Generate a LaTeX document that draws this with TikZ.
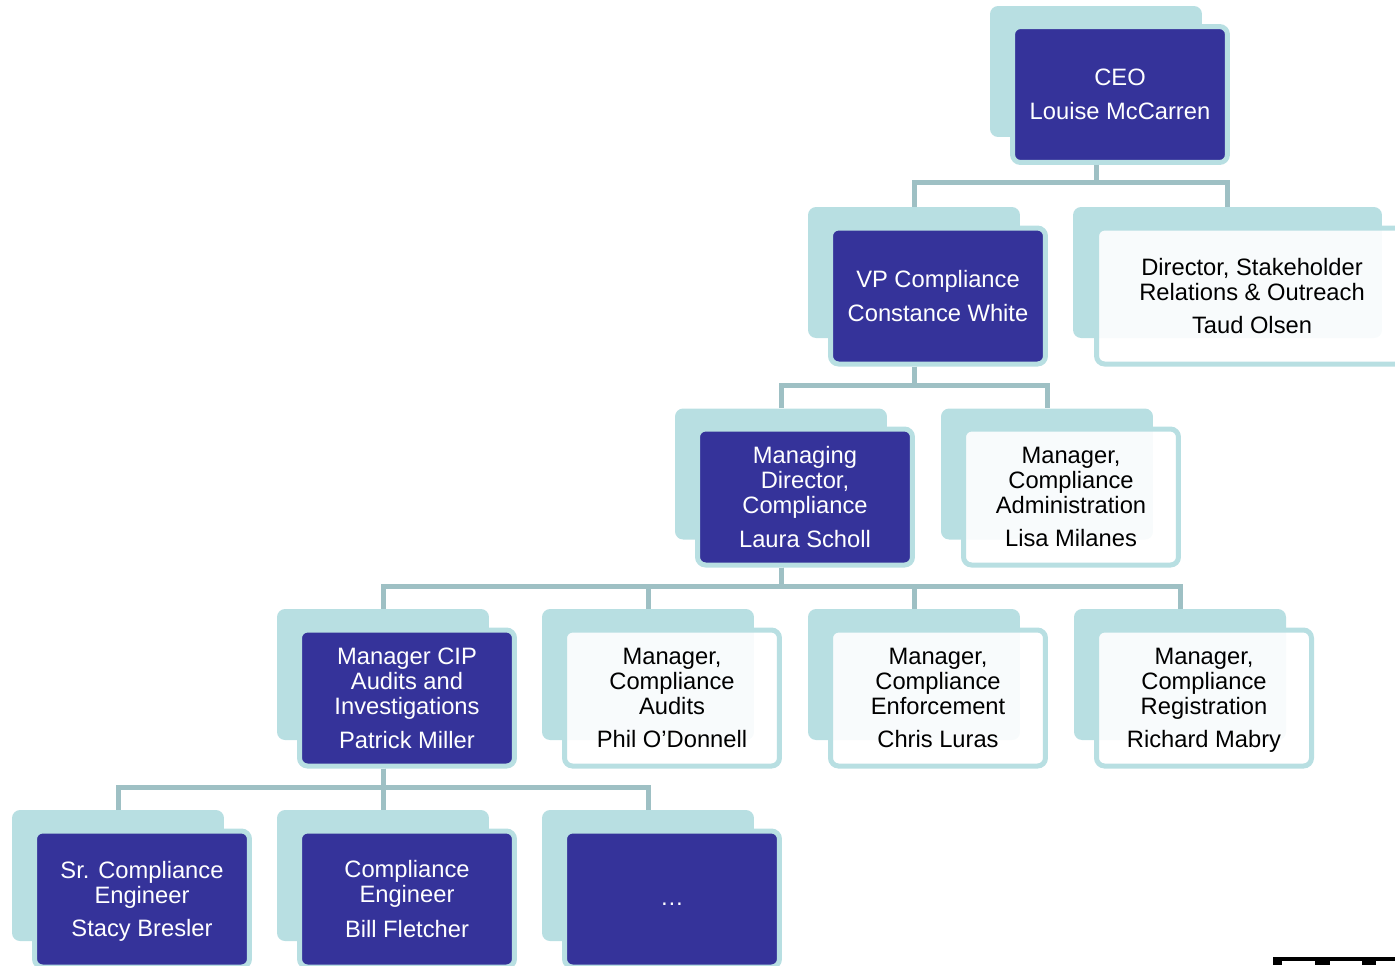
\documentclass[tikz,border=0pt]{standalone}
\usepackage{fontspec}
\setmainfont{Liberation Sans}
\usepackage{xcolor}
\definecolor{navy}{HTML}{35339A}
\definecolor{tabteal}{HTML}{B8DFE2}
\definecolor{linkteal}{HTML}{9EC0C4}

\begin{document}
\begin{tikzpicture}[x=0.02cm,y=-0.02cm,
  tab/.style={rectangle,rounded corners=0.16cm,fill=tabteal,minimum width=4.24cm,minimum height=2.62cm,inner sep=0pt},
  box/.style={rectangle,rounded corners=0.16cm,draw=tabteal,line width=0.1cm,minimum width=4.3cm,minimum height=2.72cm,inner sep=0pt,text depth=0pt,align=center,font=\fontsize{13.5}{14.2}\selectfont},
  boss/.style={box,fill=navy,text=white},
  staff/.style={box,fill=white,fill opacity=0.9,text opacity=1,text=black},
  link/.style={draw=linkteal,line width=0.1cm}]
  \useasboundingbox (0,0) rectangle (1395,965);
  % level 1
  \node[tab] (ceo-t) at (1096,71.5) {};
  \node[boss] (ceo) at (1120,94.5) {CEO\\[5pt]Louise McCarren};
  % level 2
  \node[tab] (vp-t) at (914,272.5) {};
  \node[boss] (vp) at (938,296) {VP Compliance\\[5pt]Constance White};
  \node[tab,minimum width=6.18cm] (dir-t) at (1227.5,272.5) {};
  \node[staff,minimum width=6.22cm] (dir) at (1252,296) {Director, Stakeholder\\Relations \& Outreach\\[5pt]Taud Olsen};
  % level 3
  \node[tab] (md-t) at (781,474) {};
  \node[boss] (md) at (805,497) {Managing\\Director,\\Compliance\\[5pt]Laura Scholl};
  \node[tab] (adm-t) at (1047,474) {};
  \node[staff] (adm) at (1071,497) {Manager,\\Compliance\\Administration\\[5pt]Lisa Milanes};
  % level 4
  \node[tab] (cip-t) at (383,674.5) {};
  \node[boss] (cip) at (407,698) {Manager CIP\\Audits and\\Investigations\\[5pt]Patrick Miller};
  \node[tab] (aud-t) at (648,674.5) {};
  \node[staff] (aud) at (672,698) {Manager,\\Compliance\\Audits\\[5pt]Phil O'Donnell};
  \node[tab] (enf-t) at (914,674.5) {};
  \node[staff] (enf) at (938,698) {Manager,\\Compliance\\Enforcement\\[5pt]Chris Luras};
  \node[tab] (reg-t) at (1180,674.5) {};
  \node[staff] (reg) at (1204,698) {Manager,\\Compliance\\Registration\\[5pt]Richard Mabry};
  % level 5
  \node[tab] (sr-t) at (118,875.5) {};
  \node[boss] (sr) at (142,899) {Sr. Compliance\\Engineer\\[5pt]Stacy Bresler};
  \node[tab] (eng-t) at (383,875.5) {};
  \node[boss] (eng) at (407,899) {Compliance\\Engineer\\[6pt]Bill Fletcher};
  \node[tab] (more-t) at (648,875.5) {};
  \node[boss,text height=7pt] (more) at (672,899) {\dots};

  % connectors
  \draw[link] (ceo-t |- ceo.south) -- ++(0,18) -| (vp-t.north);
  \draw[link] (ceo-t |- ceo.south) -- ++(0,18) -| (dir-t.north);
  \draw[link] (vp-t |- vp.south) -- ++(0,19) -| (md-t.north);
  \draw[link] (vp-t |- vp.south) -- ++(0,19) -| (adm-t.north);
  \draw[link] (md-t |- md.south) -- ++(0,19) -| (cip-t.north);
  \draw[link] (md-t |- md.south) -- ++(0,19) -| (aud-t.north);
  \draw[link] (md-t |- md.south) -- ++(0,19) -| (enf-t.north);
  \draw[link] (md-t |- md.south) -- ++(0,19) -| (reg-t.north);
  \draw[link] (cip-t |- cip.south) -- ++(0,19) -| (sr-t.north);
  \draw[link] (cip-t |- cip.south) -- ++(0,19) -| (eng-t.north);
  \draw[link] (cip-t |- cip.south) -- ++(0,19) -| (more-t.north);

  % cut-off mark, bottom right
  \fill[black] (1273,957) rectangle (1395,965);
  \fill[white] (1282,961) rectangle (1315,965);
  \fill[white] (1330,961) rectangle (1362,965);
  \fill[white] (1376,961) rectangle (1395,965);
\end{tikzpicture}
\end{document}
